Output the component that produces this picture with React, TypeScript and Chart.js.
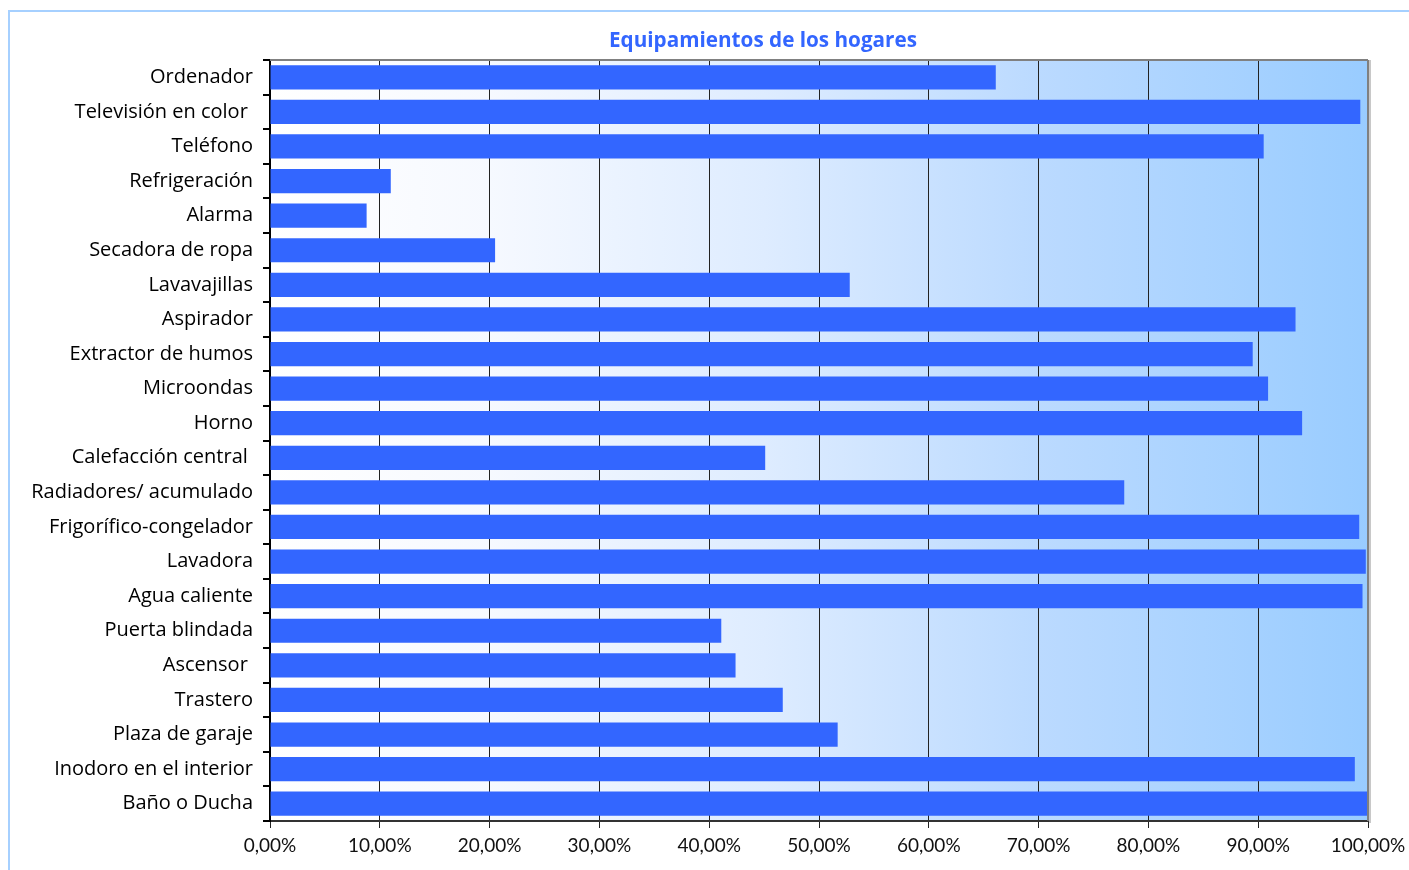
import React, { useEffect, useRef } from "react";
import { Chart, registerables } from "chart.js";

Chart.register(...registerables);

const categories: string[] = [
  "Ordenador",
  "Televisión en color ",
  "Teléfono",
  "Refrigeración",
  "Alarma",
  "Secadora de ropa",
  "Lavavajillas",
  "Aspirador",
  "Extractor de humos",
  "Microondas",
  "Horno",
  "Calefacción central ",
  "Radiadores/ acumulado",
  "Frigorífico-congelador",
  "Lavadora",
  "Agua caliente",
  "Puerta blindada",
  "Ascensor ",
  "Trastero",
  "Plaza de garaje",
  "Inodoro en el interior",
  "Baño o Ducha",
];

const values: number[] = [
  66.1, 99.3, 90.5, 11.0, 8.8, 20.5, 52.8, 93.4, 89.5, 90.9, 94.0, 45.1, 77.8,
  99.2, 99.8, 99.5, 41.1, 42.4, 46.7, 51.7, 98.8, 100,
];

const xTickLabels: string[] = [
  "0,00%", "10,00%", "20,00%", "30,00%", "40,00%", "50,00%",
  "60,00%", "70,00%", "80,00%", "90,00%", "100,00%",
];

const titleText = "Equipamientos de los hogares";
const FONT = "'Open Sans', Lato, 'DejaVu Sans', sans-serif";
const TICK_FONT = "Lato, 'Open Sans', sans-serif";

export default function App() {
  const ref = useRef<HTMLCanvasElement | null>(null);

  useEffect(() => {
    if (!ref.current) return;
    const bgPlugin = {
      id: "bgPlugin",
      beforeDraw(chart: any) {
        const { ctx, chartArea: a } = chart;
        const g = ctx.createLinearGradient(a.left, 0, a.right, 0);
        g.addColorStop(0, "#FFFFFF");
        g.addColorStop(0.2, "#F6F9FF");
        g.addColorStop(0.45, "#DEECFF");
        g.addColorStop(0.7, "#BBDAFF");
        g.addColorStop(1, "#99CCFF");
        ctx.save();
        ctx.fillStyle = g;
        ctx.fillRect(a.left, a.top, a.right - a.left, a.bottom - a.top);
        ctx.restore();
      },
      afterDraw(chart: any) {
        const { ctx, chartArea: a } = chart;
        ctx.save();
        ctx.strokeStyle = "#C8C8C8";
        ctx.lineWidth = 2;
        ctx.beginPath();
        ctx.moveTo(a.right + 2, a.top);
        ctx.lineTo(a.right + 2, a.bottom + 2);
        ctx.stroke();
        ctx.strokeStyle = "#808080";
        ctx.lineWidth = 2;
        ctx.beginPath();
        ctx.moveTo(a.left, a.top);
        ctx.lineTo(a.right, a.top);
        ctx.moveTo(a.right, a.top);
        ctx.lineTo(a.right, a.bottom);
        ctx.stroke();
        ctx.fillStyle = "#3366FF";
        ctx.font = "bold 20.7px " + FONT;
        ctx.textAlign = "center";
        ctx.textBaseline = "middle";
        ctx.fillText(titleText, 763, 41);
        ctx.restore();
      },
    };

    const chart = new Chart(ref.current, {
      type: "bar",
      data: {
        labels: categories,
        datasets: [
          {
            data: values,
            backgroundColor: "#3366FF",
            borderWidth: 0,
            categoryPercentage: 1,
            barPercentage: 0.7,
          },
        ],
      },
      options: {
        indexAxis: "y",
        responsive: false,
        animation: false,
        layout: { padding: { left: 0, top: 60, right: 41, bottom: 0 } },
        plugins: {
          legend: { display: false },
          title: { display: false },
          tooltip: { enabled: false },
        },
        scales: {
          x: {
            type: "linear",
            min: 0,
            max: 100,
            afterFit(scale: any) {
              scale.height = 49;
              scale.paddingLeft = 0;
              scale.paddingRight = 0;
            },
            afterBuildTicks(scale: any) {
              scale.ticks = xTickLabels.map((_, i) => ({ value: i * 10 }));
            },
            ticks: {
              callback: (_v: any, i: number) => xTickLabels[i],
              color: "#111111",
              font: { family: TICK_FONT, size: 19 },
              padding: 6,
              maxRotation: 0,
              autoSkip: false,
            },
            grid: {
              color: "#222222",
              lineWidth: 1,
              tickLength: 7,
              drawOnChartArea: true,
            },
            border: { display: true, color: "#333333", width: 2 },
          },
          y: {
            type: "category",
            afterFit(scale: any) {
              scale.width = 270;
              scale.paddingTop = 0;
              scale.paddingBottom = 0;
            },
            ticks: {
              color: "#000000",
              font: { family: FONT, size: 20 },
              padding: 10,
              autoSkip: false,
            },
            grid: {
              drawOnChartArea: false,
              drawTicks: true,
              offset: true,
              tickLength: 7,
              color: "#000000",
              lineWidth: 2,
            },
            border: { display: true, color: "#000000", width: 2 },
          },
        },
      },
      plugins: [bgPlugin],
    });
    return () => chart.destroy();
  }, []);

  return (
    <div style={{ position: "fixed", left: 0, top: 0, width: 1409, height: 870, overflow: "hidden", background: "#FFFFFF" }}>
      <div
        style={{
          position: "absolute",
          left: 8,
          top: 10,
          width: 1440,
          height: 900,
          border: "2px solid #A6D0FF",
          boxSizing: "border-box",
        }}
      />
      <canvas ref={ref} width={1409} height={870} style={{ position: "absolute", left: 0, top: 0, width: 1409, height: 870 }} />
    </div>
  );
}
